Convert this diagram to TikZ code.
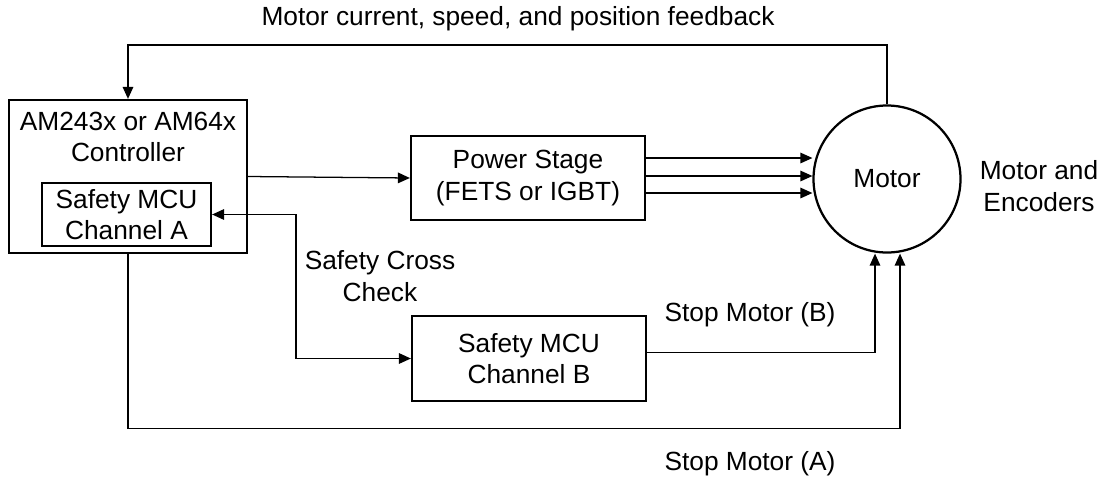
\documentclass[tikz,border=0pt]{standalone}
\usepackage{fontspec}
\setmainfont{Liberation Sans}
\usepackage{tikz}
\usetikzlibrary{positioning,calc,arrows.meta}

\tikzset{
  blk/.style={draw, line width=1.6pt, align=center, inner sep=0pt},
  sig/.style={line width=0.9pt, -{Triangle[length=8.5pt, width=7.5pt]}},
  lbl/.style={align=center, inner sep=0pt}
}

\begin{document}
\begin{tikzpicture}[font=\fontsize{18.7}{22.4}\selectfont]
        \useasboundingbox (0,0) rectangle (27.6,-12);

        % Blocks
        \node[blk, minimum width=5.95cm, minimum height=3.825cm] (ctrl) at (3.2,-4.4125) {};
        \node[lbl] (ctrltxt) at (3.2,-3.425) {AM243x or AM64x\\Controller};
        \node[blk, minimum width=4.225cm, minimum height=1.575cm] (mcuA) at (3.1625,-5.3625) {Safety MCU\\Channel A};
        \node[blk, minimum width=5.85cm, minimum height=2.1cm] (power) at (13.2,-4.45) {Power Stage\\(FETS or IGBT)};
        \node[blk, minimum width=5.85cm, minimum height=2.125cm] (mcuB) at (13.225,-8.9625) {Safety MCU\\Channel B};
        \node[blk, circle, minimum size=3.675cm] (motor) at (22.175,-4.475) {Motor};

        % Labels
        \node[lbl] (fbtxt) at (12.95,-0.47) {Motor current, speed, and position feedback};
        \node[lbl] (crosstxt) at (9.5,-6.9) {Safety Cross\\Check};
        \node[lbl] (stopBtxt) at (18.75,-7.875) {Stop Motor (B)};
        \node[lbl] (stopAtxt) at (18.75,-11.6) {Stop Motor (A)};
        \node[lbl] (enctxt) at (25.975,-4.65) {Motor and\\Encoders};

        % Connections
        \draw[sig] (motor.north) -- ++(0,1.4875) -| (ctrl.north);
        \draw[sig] (ctrl.east) -- (power.west);
        \foreach \dy in {0.5,0.05,-0.375}
          \draw[sig] ([yshift=\dy cm]power.east) -- ([yshift=\dy cm]power.east -| motor.west);
        \draw[sig, {Triangle[length=8.5pt, width=7.5pt]}-{Triangle[length=8.5pt, width=7.5pt]}]
          (mcuA.east) -- ++(2.1,0) |- (mcuB.west);
        \draw[sig] ([yshift=0.15cm]mcuB.east) -| ([xshift=-0.3cm]motor.south);
        \draw[sig] (ctrl.south) -- ++(0,-4.35) -| ([xshift=0.325cm]motor.south);
\end{tikzpicture}
\end{document}
